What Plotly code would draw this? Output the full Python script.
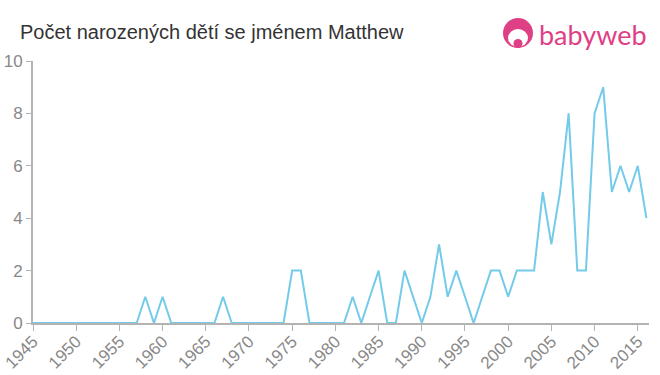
import plotly.graph_objects as go

years = list(range(1945, 2017))
counts = [0]*13 + [1, 0, 1, 0] + [0]*4 + [0, 1, 0] + [0]*5 + [0, 2, 2, 0] + [0]*3 + \
    [0, 1, 0, 1, 2, 0, 0, 2, 1, 0, 1, 3, 1, 2, 1, 0, 1, 2, 2, 1, 2, 2, 2, 5, 3, 5, 8, 2, 2, 8, 9, 5, 6, 5, 6, 4]
# years 1945..2016

x_ticks = list(range(1945, 2020, 5))
y_ticks = [0, 2, 4, 6, 8, 10]

W, H = 660, 375
L, R, T, B = 33, 11, 61, 52
PW, PH = W - L - R, H - T - B

def px(x):
    return (x - L) / PW

def py(y):
    return (H - B - y) / PH

fig = go.Figure()
fig.add_trace(go.Scatter(x=years, y=counts, mode="lines",
                         line=dict(color="#74cbe9", width=2), hoverinfo="x+y"))

fig.update_layout(
    width=W, height=H,
    margin=dict(l=L, r=R, t=T, b=B),
    paper_bgcolor="white", plot_bgcolor="white",
    showlegend=False,
    font=dict(family="Liberation Sans, Arial, sans-serif", color="#888888"),
    title=dict(text="Počet narozených dětí se jménem Matthew", x=20/W, xanchor="left",
               y=1-32/H, yanchor="middle",
               font=dict(size=20, color="#333333", family="Liberation Sans, Arial, sans-serif")),
    xaxis=dict(range=[1945, 2016.3], tickvals=x_ticks, ticktext=[str(v) for v in x_ticks],
               tickangle=-45, showgrid=False, zeroline=False, showline=True, automargin=False,
               linecolor="#b3b3b3", linewidth=2, ticks="outside", tickcolor="#b3b3b3",
               ticklen=6, tickwidth=1, ticklabelstandoff=-6,
               tickfont=dict(size=17, color="#888888")),
    yaxis=dict(range=[0, 10], tickvals=y_ticks, showgrid=False, zeroline=False, showline=True,
               automargin=False,
               linecolor="#b3b3b3", linewidth=2, ticks="outside", tickcolor="#b3b3b3",
               ticklen=5, tickwidth=1, tickfont=dict(size=17, color="#888888")),
)

pink = "#df3f85"
# babyweb logo icon
fig.add_shape(type="circle", xref="paper", yref="paper",
              x0=px(503), x1=px(533), y0=py(48), y1=py(18),
              fillcolor=pink, line=dict(width=0))
fig.add_shape(type="circle", xref="paper", yref="paper",
              x0=px(508), x1=px(528), y0=py(47), y1=py(29),
              fillcolor="white", line=dict(width=0))
fig.add_shape(type="circle", xref="paper", yref="paper",
              x0=px(513.5), x1=px(522.5), y0=py(48), y1=py(39),
              fillcolor=pink, line=dict(width=0))
fig.add_annotation(text="babyweb", xref="paper", yref="paper",
                   x=px(537), y=py(34), xanchor="left", yanchor="middle",
                   showarrow=False,
                   font=dict(size=27, color=pink, family="Lato, Liberation Sans, sans-serif"))

fig.write_html("out.html", config={"displayModeBar": False},
               post_script="document.body.style.margin='0';document.body.style.overflow='hidden';")
